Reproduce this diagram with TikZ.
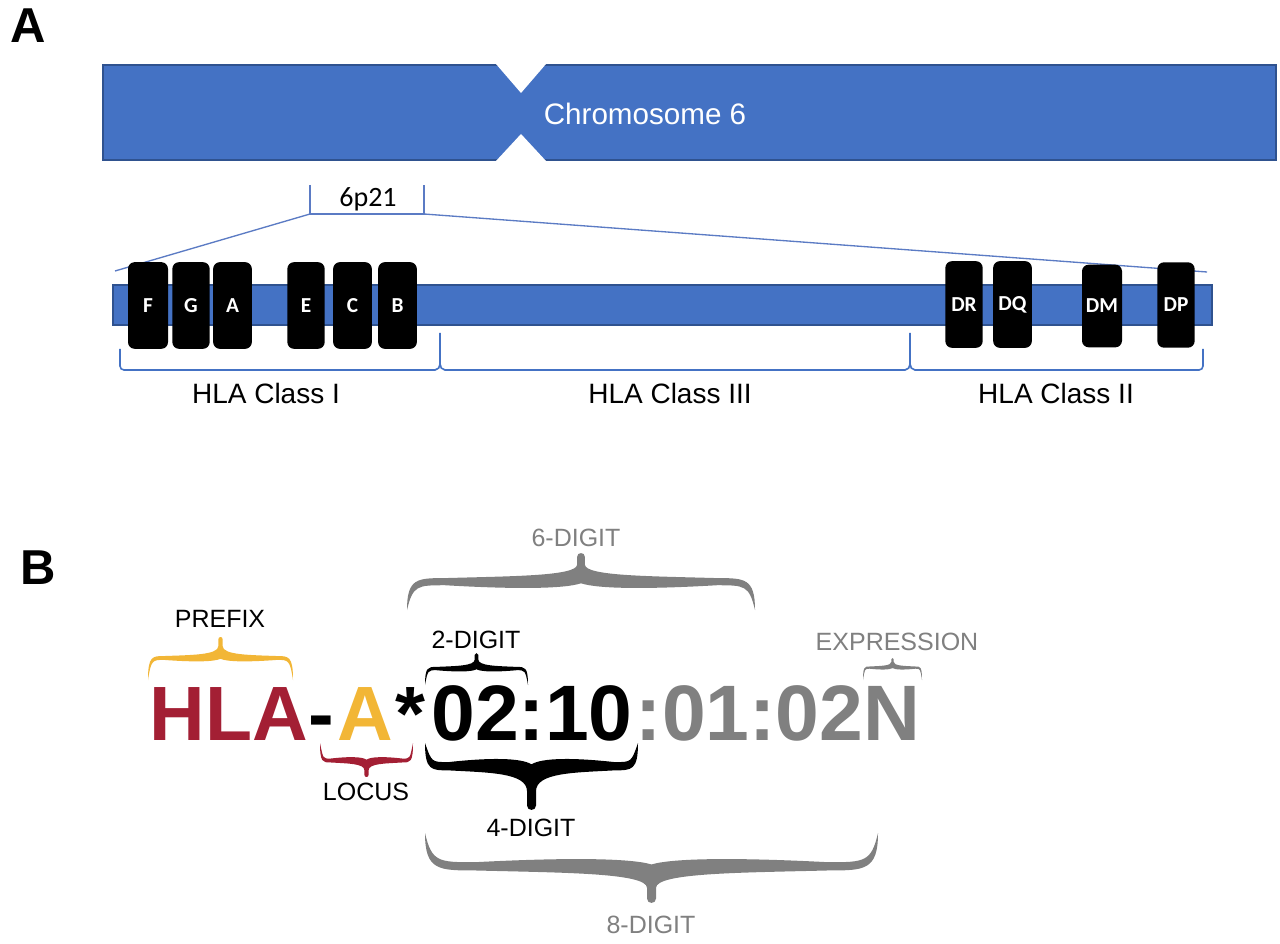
\documentclass[tikz,border=0pt]{standalone}
\usepackage{fontspec}
\setmainfont{Liberation Sans}
\newfontfamily\calfont{Carlito}
\definecolor{chrblue}{HTML}{4472C4}
\definecolor{chredge}{HTML}{2F528F}
\definecolor{linkblue}{HTML}{5B7BC4}
\definecolor{hlared}{HTML}{A31F34}
\definecolor{hlayel}{HTML}{F2B636}
\definecolor{hlagray}{HTML}{808080}

% calligraphic curly brace: #1 left x, #2 right x, #3 end y, #4 tip y, #5 thickness, #6 bar ratio, #7 colour
\newcommand{\cbrace}[7]{%
\pgfmathsetmacro\cbrh{#4-#3}%
\pgfmathsetmacro\cbrs{(\cbrh>0)?1:-1}%
\pgfmathsetmacro\cbrw{#2-#1}%
\pgfmathsetmacro\cbrM{(#1+#2)/2}%
\pgfmathsetmacro\cbrB{#3+#6*\cbrh}%
\pgfmathsetmacro\cbrO{\cbrB+#5/2*\cbrs}%
\pgfmathsetmacro\cbrI{\cbrB-#5/2*\cbrs}%
\pgfmathsetmacro\cbrOa{\cbrB+0.35*#5*\cbrs}%
\pgfmathsetmacro\cbrIa{\cbrB-0.2*#5*\cbrs}%
\pgfmathsetmacro\cbrst{#5*0.3}%
\pgfmathsetmacro\cbrSa{\cbrO+0.5*(#4-\cbrO)}%
\pgfmathsetmacro\cbrSb{#4-\cbrs*\cbrst}%
\pgfmathsetmacro\cbrTx{#4+\cbrs*0.3*\cbrst}%
\pgfmathsetmacro\cbrC{\cbrI+\cbrs*0.45*#5}%
\pgfmathsetmacro\cbrLa{#1+0.11*\cbrw}%
\pgfmathsetmacro\cbrRa{#2-0.11*\cbrw}%
\pgfmathsetmacro\cbrLc{#1+0.03*\cbrw}%
\pgfmathsetmacro\cbrRc{#2-0.03*\cbrw}%
\pgfmathsetmacro\cbrLi{#1+0.45*#5}%
\pgfmathsetmacro\cbrRi{#2-0.45*#5}%
\pgfmathsetmacro\cbrMl{\cbrM-\cbrst}%
\pgfmathsetmacro\cbrMr{\cbrM+\cbrst}%
\pgfmathsetmacro\cbrPl{\cbrM-0.2*\cbrw}%
\pgfmathsetmacro\cbrPr{\cbrM+0.2*\cbrw}%
\pgfmathsetmacro\cbrQl{\cbrM-0.05*\cbrw}%
\pgfmathsetmacro\cbrQr{\cbrM+0.05*\cbrw}%
\fill[#7] (#1,#3) .. controls (#1,\cbrOa) and (\cbrLc,\cbrOa) .. (\cbrLa,\cbrOa)
 .. controls (\cbrPl,\cbrO) and (\cbrMl,\cbrO) .. (\cbrMl,\cbrSa)
 -- (\cbrMl,\cbrSb) .. controls (\cbrMl,\cbrTx) and (\cbrMr,\cbrTx) .. (\cbrMr,\cbrSb)
 -- (\cbrMr,\cbrSa) .. controls (\cbrMr,\cbrO) and (\cbrPr,\cbrO) .. (\cbrRa,\cbrOa)
 .. controls (\cbrRc,\cbrOa) and (#2,\cbrOa) .. (#2,#3)
 .. controls (\cbrRi,\cbrIa) and (\cbrRc,\cbrIa) .. (\cbrRa,\cbrIa)
 .. controls (\cbrPr,\cbrI) and (\cbrQr,\cbrI) .. (\cbrM,\cbrC)
 .. controls (\cbrQl,\cbrI) and (\cbrPl,\cbrI) .. (\cbrLa,\cbrIa)
 .. controls (\cbrLc,\cbrIa) and (\cbrLi,\cbrIa) .. (#1,#3) -- cycle;
}

\tikzset{
  panel/.style={font=\bfseries\fontsize{36.75}{40}\selectfont, anchor=base, inner sep=0},
  gene/.style={fill=black, rounded corners=5, text=white, inner sep=0,
    font=\calfont\bfseries\fontsize{16}{18}\selectfont},
  classlbl/.style={font=\fontsize{21}{24}\selectfont, anchor=base, inner sep=0},
  bigtxt/.style={font=\bfseries\fontsize{57.75}{60}\selectfont, anchor=base, inner sep=0},
  digtxt/.style={font=\bfseries\fontsize{59}{60}\selectfont, anchor=base, inner sep=0},
  bracelbl/.style={font=\fontsize{18.75}{20}\selectfont, anchor=base, inner sep=0},
  classline/.style={chrblue, line width=1.2},
  zoomline/.style={linkblue, line width=1}
}

\begin{document}
\begin{tikzpicture}[x=0.75pt,y=-0.75pt]
\useasboundingbox (0,0) rectangle (1280,944);
\fill[white] (0,0) rectangle (1280,944);

% ---------- Panel A ----------
\node[panel] (lblA) at (28.5,43) {A};

% chromosome
\filldraw[fill=chrblue, draw=chredge, line width=1.5] (103,65) rectangle (1276,160);
\fill[white] (496,64) -- (546,64) -- (521,93) -- cycle;
\fill[white] (496,161) -- (546,161) -- (521,134) -- cycle;
\node[text=white, font=\fontsize{22.2}{24}\selectfont, inner sep=0] (chr) at (645,114) {Chromosome 6};

% 6p21 bracket and zoom lines
\coordinate (bl) at (310,214);
\coordinate (br) at (424,214);
\coordinate (bltop) at (310,185);
\coordinate (brtop) at (424,185);
\coordinate (zl) at (115,271);
\coordinate (zr) at (1207,272);
\draw[zoomline] (bltop) -- (bl) -- (br) -- (brtop);
\draw[zoomline] (bl) -- (zl);
\draw[zoomline] (br) -- (zr);
\node[font=\calfont\fontsize{21}{22}\selectfont, anchor=base, inner sep=0] (p21) at (368,207) {6p21};

% region bar
\filldraw[fill=chrblue, draw=chredge, line width=1.5] (113,285) rectangle (1212,325);

% genes
\node[gene, minimum width=30, minimum height=65] (gF) at (148,305.5) {F};
\node[gene, minimum width=28, minimum height=65] (gG) at (191,305.5) {G};
\node[gene, minimum width=29, minimum height=65] (gA) at (232.5,305.5) {A};
\node[gene, minimum width=28, minimum height=65] (gE) at (306,305.5) {E};
\node[gene, minimum width=29, minimum height=65] (gC) at (352.5,305.5) {C};
\node[gene, minimum width=29, minimum height=65] (gB) at (397.5,305.5) {B};
\node[gene, minimum width=28, minimum height=65] (gDR) at (964,304.5) {DR};
\node[gene, minimum width=29, minimum height=65] (gDQ) at (1012.5,304.5) {DQ};
\node[gene, minimum width=30, minimum height=62] (gDM) at (1102,306) {DM};
\node[gene, minimum width=28, minimum height=64] (gDP) at (1176,305) {DP};

% class brackets
\draw[classline] (120,349) -- (120,366) to[out=-90,in=180] (124,370) -- (435,370) to[out=0,in=-90] (440,364) -- (440,333);
\draw[classline] (440,364) to[out=-90,in=180] (445,370) -- (905,370) to[out=0,in=-90] (910,364) -- (910,333);
\draw[classline] (910,364) to[out=-90,in=180] (915,370) -- (1199,370) to[out=0,in=-90] (1203,366) -- (1203,349);

\node[classlbl] (c1) at (266,403) {HLA Class I};
\node[classlbl] (c3) at (670,403) {HLA Class III};
\node[classlbl] (c2) at (1056,403) {HLA Class II};

% ---------- Panel B ----------
\node[panel] (lblB) at (38.5,584) {B};

\node[bigtxt, text=hlared] (hla) at (229,740) {HLA};
\node[bigtxt, text=black] (dash) at (321,740) {-};
\node[bigtxt, text=hlayel] (loc) at (365,740) {A};
\node[bigtxt, text=black] (star) at (410,740) {*};
\node[digtxt, text=black] (d4) at (532,740) {02:10};
\node[digtxt, text=hlagray] (d8) at (778,740) {:01:02N};

% braces
\cbrace{148}{293}{680}{637}{7}{0.5}{hlayel}
\cbrace{320}{413}{743}{777}{7}{0.5}{hlared}
\cbrace{425}{528}{685}{653}{6}{0.5}{black}
\cbrace{425}{638}{743}{810}{15}{0.33}{black}
\cbrace{407}{755}{610}{553}{13}{0.48}{hlagray}
\cbrace{425}{878}{833}{903}{15}{0.46}{hlagray}
\cbrace{863}{922}{680}{658}{4}{0.55}{hlagray}

\node[bracelbl, text=black] (prefix) at (220,627) {PREFIX};
\node[bracelbl, text=black] (locus) at (366,800) {LOCUS};
\node[bracelbl, text=black] (two) at (476,648) {2-DIGIT};
\node[bracelbl, text=black] (four) at (531,836) {4-DIGIT};
\node[bracelbl, text=hlagray] (six) at (576,546) {6-DIGIT};
\node[bracelbl, text=hlagray] (eight) at (651,933) {8-DIGIT};
\node[bracelbl, text=hlagray] (expr) at (897,650) {EXPRESSION};
\end{tikzpicture}
\end{document}
